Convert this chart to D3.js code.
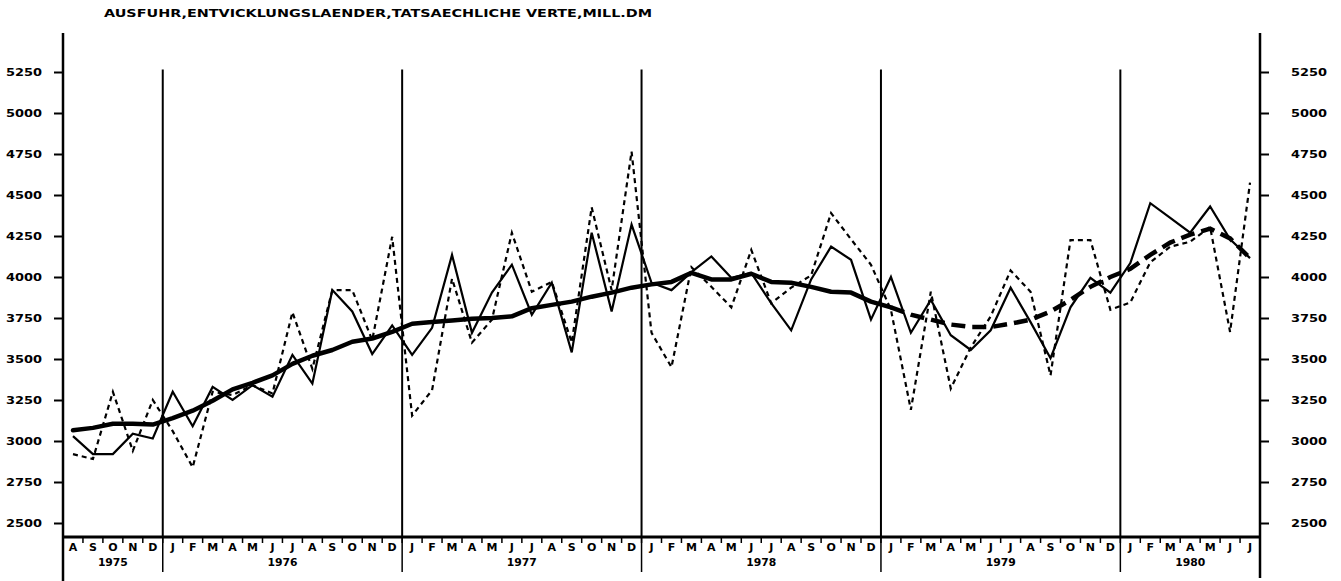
<!DOCTYPE html>
<html><head><meta charset="utf-8">
<script src="https://cdn.jsdelivr.net/npm/d3@7"></script>
<style>
html,body{margin:0;padding:0;background:#fff;}
svg{display:block;}
text{font-family:"DejaVu Sans",sans-serif;font-weight:bold;fill:#000;}
</style></head>
<body>
<svg id="chart" width="1341" height="581"></svg>
<script>
const title = "AUSFUHR,ENTVICKLUNGSLAENDER,TATSAECHLICHE VERTE,MILL.DM";
const monthLetters = ["A","S","O","N","D",
 "J","F","M","A","M","J","J","A","S","O","N","D",
 "J","F","M","A","M","J","J","A","S","O","N","D",
 "J","F","M","A","M","J","J","A","S","O","N","D",
 "J","F","M","A","M","J","J","A","S","O","N","D",
 "J","F","M","A","M","J","J"];
const years = ["1975","1976","1977","1978","1979","1980"];
const yearStart = [0,5,17,29,41,53];
const yearEnd = [5,17,29,41,53,60];
const yTicks = [2500,2750,3000,3250,3500,3750,4000,4250,4500,4750,5000,5250];

// thin solid line
const solid = [3030,2920,2920,3045,3015,
 3300,3090,3330,3250,3340,3270,3525,3350,3920,3790,3530,3705,
 3525,3690,4135,3660,3905,4075,3770,3965,3540,4270,3790,4320,
 3965,3920,4030,4125,3995,4025,3840,3675,3985,4185,4105,3740,
 4000,3660,3860,3645,3555,3675,3935,3725,3505,3815,3995,3905,
 4085,4450,4360,4270,4430,4230,4115];
// thin dotted line
const dotted = [2920,2890,3300,2940,3250,
 3060,2840,3300,3280,3340,3290,3785,3440,3920,3920,3615,4245,
 3155,3310,3990,3600,3740,4270,3910,3970,3600,4425,3920,4765,
 3660,3450,4060,3940,3815,4165,3840,3935,4010,4390,4230,4075,
 3800,3190,3910,3320,3570,3760,4040,3910,3400,4225,4225,3800,
 3845,4090,4185,4215,4305,3665,4575];
// thick trend line (solid part then dashed part)
const trend = [3065,3080,3105,3105,3100,
 3140,3185,3245,3315,3355,3400,3470,3520,3555,3605,3625,3665,
 3715,3725,3735,3745,3750,3760,3810,3830,3850,3880,3905,3935,
 3955,3970,4025,3985,3985,4020,3970,3965,3940,3910,3905,3850,
 3815,3770,3740,3710,3695,3695,3715,3740,3790,3860,3940,4000,
 4050,4135,4210,4258,4295,4235,4115];
const trendSplit = 41;

const svg = d3.select("#chart");
const x = d3.scaleLinear().domain([0,60]).range([63,1260]);
const y = d3.scaleLinear().domain([2500,5250]).range([523,72]);
const axisY = 537;

// title
svg.append("text").attr("x",104).attr("y",17).attr("font-size",11)
  .attr("textLength",548).attr("lengthAdjust","spacingAndGlyphs").text(title);

// axis frame lines
svg.append("line").attr("x1",x(0)).attr("x2",x(0)).attr("y1",33).attr("y2",581)
  .attr("stroke","#000").attr("stroke-width",2.5);
svg.append("line").attr("x1",x(60)).attr("x2",x(60)).attr("y1",33).attr("y2",578)
  .attr("stroke","#000").attr("stroke-width",2.5);
svg.append("line").attr("x1",x(0)).attr("x2",x(60)).attr("y1",axisY).attr("y2",axisY)
  .attr("stroke","#000").attr("stroke-width",3);

// y axes
const gl = svg.append("g").attr("transform",`translate(${x(0)},0)`)
  .call(d3.axisLeft(y).tickValues(yTicks).tickSize(9).tickPadding(12).tickFormat(d3.format("d")));
const gr = svg.append("g").attr("transform",`translate(${x(60)},0)`)
  .call(d3.axisRight(y).tickValues(yTicks).tickSize(9).tickPadding(22).tickFormat(d3.format("d")));
[gl,gr].forEach(g=>{
  g.select(".domain").remove();
  g.selectAll(".tick line").attr("stroke","#000").attr("stroke-width",2);
  g.selectAll(".tick text").attr("font-size",11).attr("font-family","DejaVu Sans")
    .attr("font-weight","bold").attr("textLength",36).attr("lengthAdjust","spacingAndGlyphs");
});

// year boundary lines
yearStart.slice(1).forEach(b=>{
  svg.append("line").attr("x1",x(b)).attr("x2",x(b)).attr("y1",y(5265)).attr("y2",axisY)
    .attr("stroke","#000").attr("stroke-width",2);
  svg.append("line").attr("x1",x(b)).attr("x2",x(b)).attr("y1",axisY).attr("y2",572)
    .attr("stroke","#000").attr("stroke-width",1.5);
});
// month ticks
d3.range(1,60).forEach(i=>{
  svg.append("line").attr("x1",x(i)).attr("x2",x(i)).attr("y1",axisY).attr("y2",axisY+6)
    .attr("stroke","#000").attr("stroke-width",1.5);
});
// month letters
svg.append("g").selectAll("text").data(monthLetters).join("text")
  .attr("x",(d,i)=>x(i+0.5)).attr("y",551).attr("text-anchor","middle")
  .attr("font-size",11).text(d=>d);
// years
svg.append("g").selectAll("text").data(years).join("text")
  .attr("x",(d,i)=>x((yearStart[i]+yearEnd[i])/2)).attr("y",566).attr("text-anchor","middle")
  .attr("font-size",11).attr("textLength",30).attr("lengthAdjust","spacingAndGlyphs").text(d=>d);

const line = d3.line().x(d=>x(d.i+0.5)).y(d=>y(d.v));
const pts = arr=>arr.map((v,i)=>({i,v}));

svg.append("path").attr("d",line(pts(dotted))).attr("fill","none").attr("stroke","#000")
  .attr("stroke-width",2.2).attr("stroke-dasharray","5,4");
svg.append("path").attr("d",line(pts(solid))).attr("fill","none").attr("stroke","#000")
  .attr("stroke-width",2.2).attr("stroke-linejoin","miter");
const tp = pts(trend);
svg.append("path").attr("d",line(tp.slice(0,trendSplit+1))).attr("fill","none").attr("stroke","#000")
  .attr("stroke-width",4.5).attr("stroke-linejoin","round").attr("stroke-linecap","round");
svg.append("path").attr("d",line(tp.slice(trendSplit))).attr("fill","none").attr("stroke","#000")
  .attr("stroke-width",4.5).attr("stroke-dasharray","14,7");
</script>
</body></html>
